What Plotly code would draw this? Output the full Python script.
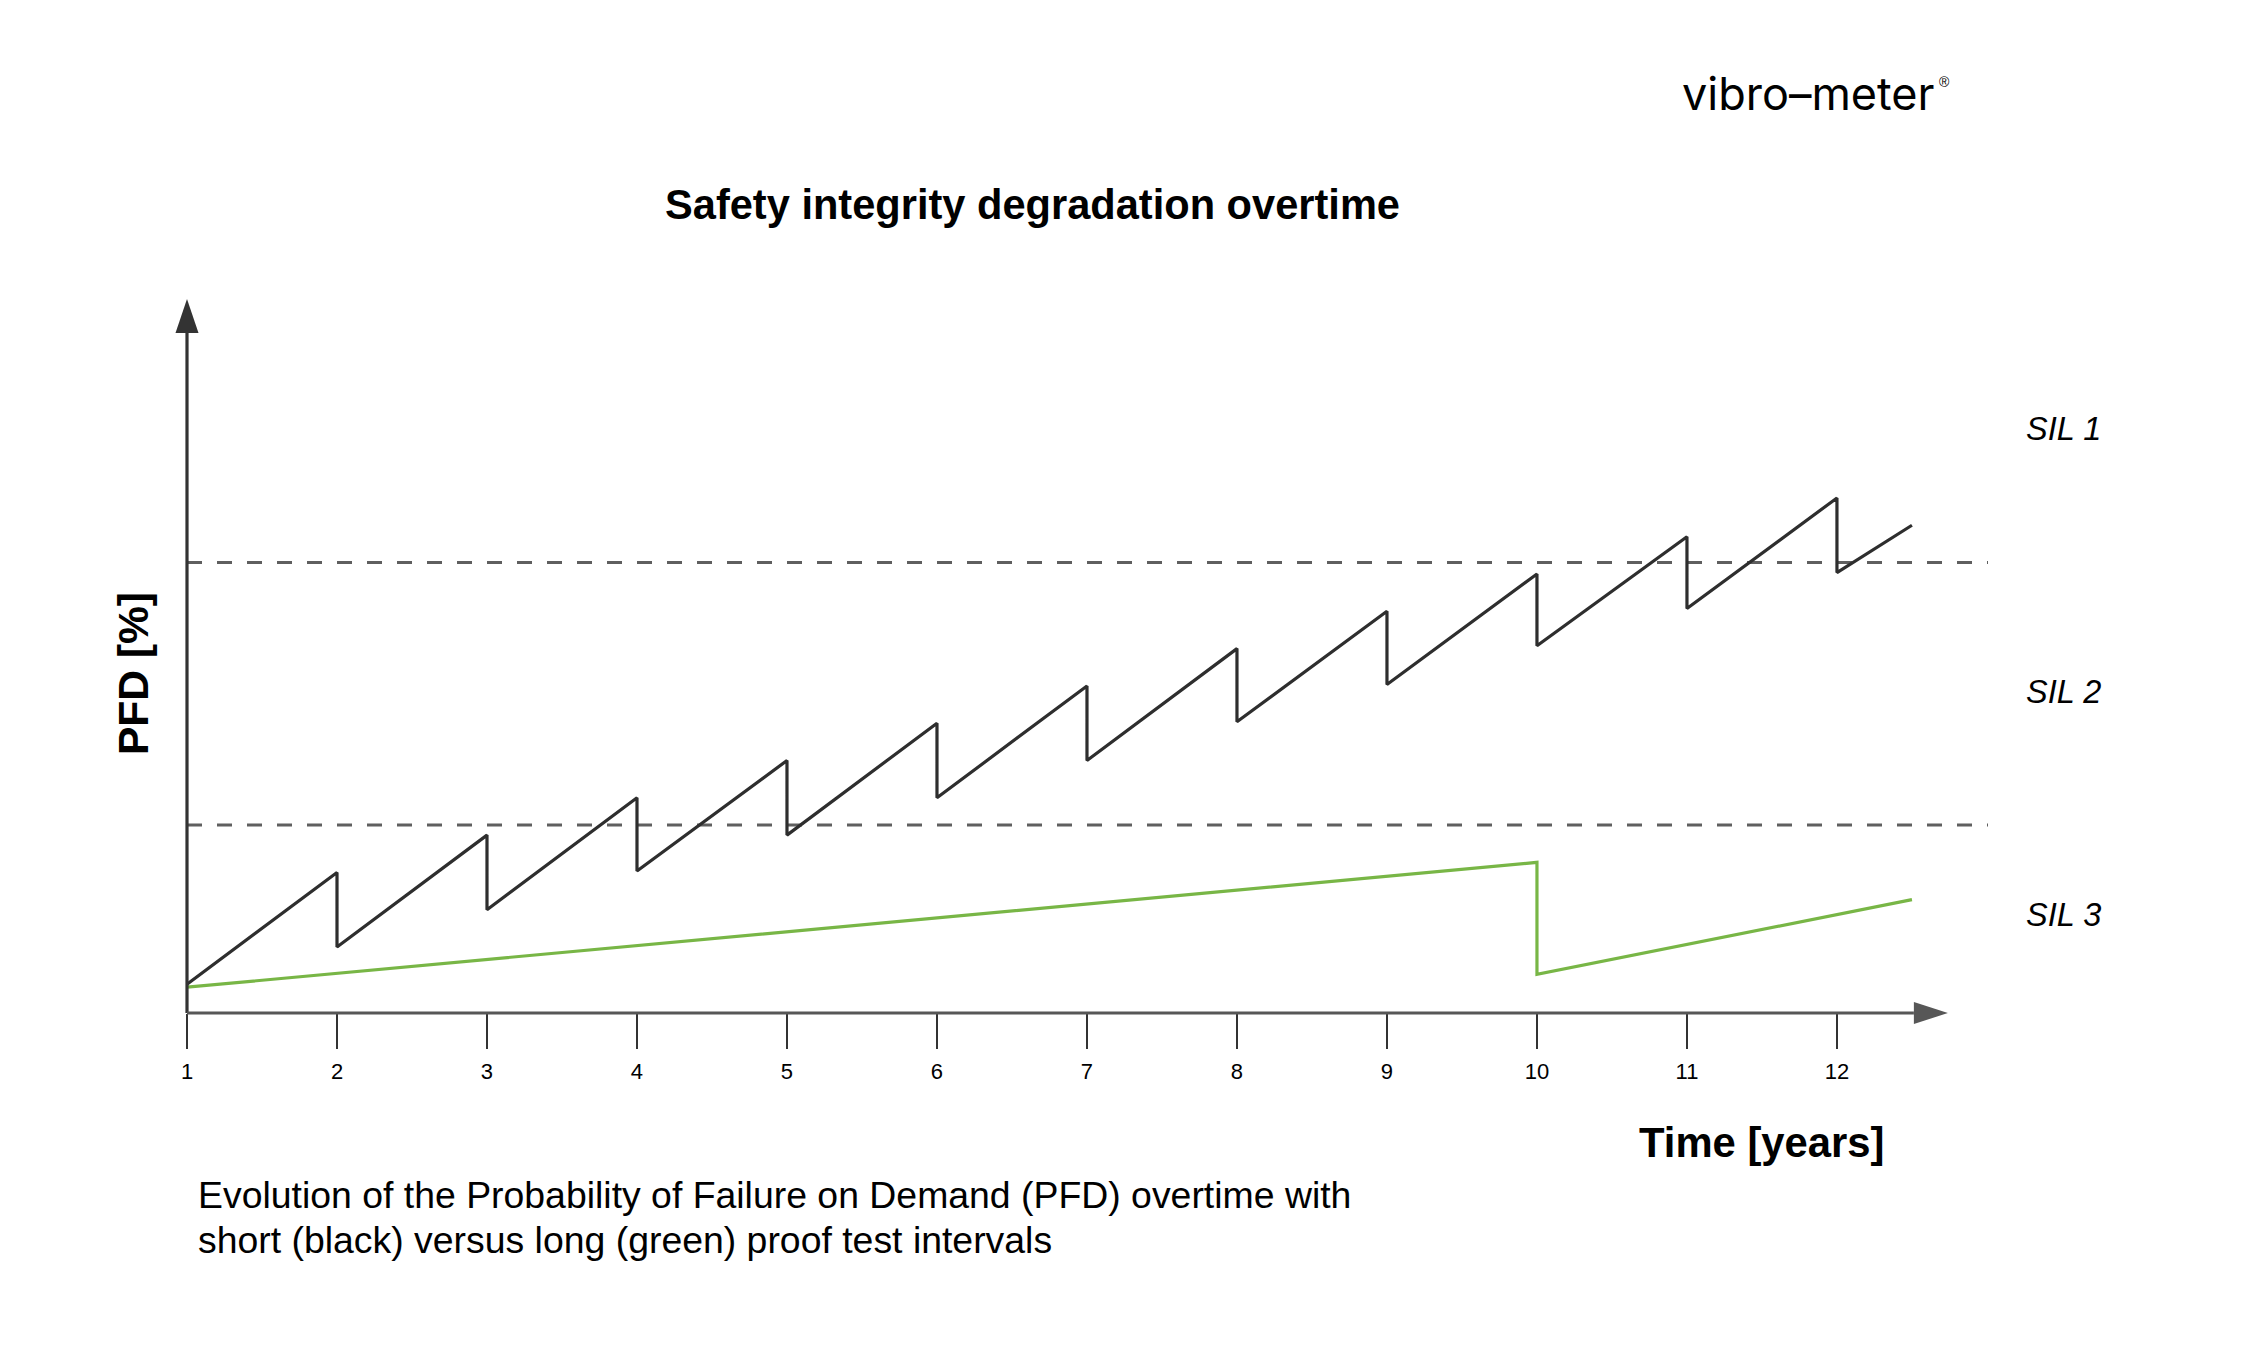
import plotly.graph_objects as go

# ---------------- data (PFD in relative units, time in years) ----------------
YEARS = [1, 2, 3, 4, 5, 6, 7, 8, 9, 10, 11, 12]
YEAR_LABELS = ["1", "2", "3", "4", "5", "6", "7", "8", "9", "10", "11", "12"]

# short proof-test interval (black)
SHORT_START_YEAR = 1
SHORT_START_PFD = 2.0
SHORT_TEST_YEARS = [2, 3, 4, 5, 6, 7, 8, 9, 10, 11, 12]
SHORT_PFD_BEFORE = [9.8, 12.4, 15.0, 17.6, 20.2, 22.8, 25.4, 28.0, 30.6, 33.2, 35.9]
SHORT_PFD_AFTER = [4.6, 7.2, 9.9, 12.4, 15.0, 17.6, 20.3, 22.9, 25.6, 28.2, 30.7]
SHORT_END_YEAR = 12.5
SHORT_END_PFD = 34.0

# long proof-test interval (green)
LONG_START_YEAR = 1
LONG_START_PFD = 1.8
LONG_TEST_YEARS = [10]
LONG_PFD_BEFORE = [10.5]
LONG_PFD_AFTER = [2.7]
LONG_END_YEAR = 12.5
LONG_END_PFD = 7.9

# SIL band boundaries and labels
SIL_BOUNDARIES = [13.1, 31.4]
SIL_LABELS = ["SIL 1", "SIL 2", "SIL 3"]
SIL_LABEL_PFD = [40.7, 22.4, 6.8]

X_RANGE = [1, 13.007]
Y_RANGE = [0, 47.4]
X_AXIS_END = 12.513

CAPTION_LINES = [
    "Evolution of the Probability of Failure on Demand (PFD) overtime with",
    "short (black) versus long (green) proof test intervals",
]


def sawtooth(x0, y0, tests, before, after, x1, y1):
    xs, ys = [x0], [y0]
    for t, b, a in zip(tests, before, after):
        xs += [t, t]
        ys += [b, a]
    xs.append(x1)
    ys.append(y1)
    return xs, ys


# ---------------- layout geometry ----------------
W, H = 2250, 1356
OFF = 8  # page body margin
ML, MR, MT, MB = 187 - OFF, 262 + OFF, 333 - OFF, 343 + OFF
PW = W - ML - MR
PH = H - MT - MB


def px_x(p):
    return (p - OFF - ML) / PW


def px_y(p):
    return (H - MB - (p - OFF)) / PH


FONT = "Liberation Sans, Arial, sans-serif"

fig = go.Figure()

gx, gy = sawtooth(LONG_START_YEAR, LONG_START_PFD, LONG_TEST_YEARS,
                  LONG_PFD_BEFORE, LONG_PFD_AFTER, LONG_END_YEAR, LONG_END_PFD)
fig.add_trace(go.Scatter(x=gx, y=gy, mode="lines",
                         line=dict(color="#78b646", width=3.2),
                         hoverinfo="skip", showlegend=False))

bx, by = sawtooth(SHORT_START_YEAR, SHORT_START_PFD, SHORT_TEST_YEARS,
                  SHORT_PFD_BEFORE, SHORT_PFD_AFTER, SHORT_END_YEAR, SHORT_END_PFD)
fig.add_trace(go.Scatter(x=bx, y=by, mode="lines",
                         line=dict(color="#2e2e2e", width=3.2),
                         hoverinfo="skip", showlegend=False))

shapes = []
# SIL boundaries (dashed)
for b in SIL_BOUNDARIES:
    shapes.append(dict(type="line", xref="paper", x0=0, x1=1, yref="y", y0=b, y1=b,
                       line=dict(color="#5f5f5f", width=3, dash="15px,15px"),
                       layer="below"))
# y axis line + arrow
shapes.append(dict(type="line", xref="paper", x0=0, x1=0, yref="paper", y0=0, y1=1,
                   line=dict(color="#333333", width=3.2)))
shapes.append(dict(type="path", xref="paper", yref="paper",
                   xsizemode="pixel", ysizemode="pixel", xanchor=0, yanchor=1,
                   path="M -11.5,0 L 11.5,0 L 0,34 Z",
                   fillcolor="#333333", line=dict(width=0)))
# x axis line + arrow
shapes.append(dict(type="line", xref="x", x0=X_RANGE[0], x1=X_AXIS_END, yref="paper", y0=0, y1=0,
                   line=dict(color="#575757", width=3.2)))
shapes.append(dict(type="path", xref="x", yref="paper",
                   xsizemode="pixel", ysizemode="pixel", xanchor=X_AXIS_END, yanchor=0,
                   path="M 0,-11 L 0,11 L 34,0 Z",
                   fillcolor="#575757", line=dict(width=0)))

annotations = []
annotations.append(dict(text="<b>Safety integrity degradation overtime</b>",
                        xref="paper", yref="paper", x=px_x(1032), y=px_y(204),
                        xanchor="center", yanchor="middle", showarrow=False,
                        font=dict(family=FONT, size=41.6, color="#000000")))
annotations.append(dict(text="<b>PFD [%]</b>", textangle=-90,
                        xref="paper", yref="paper", x=px_x(133), y=px_y(674),
                        xanchor="center", yanchor="middle", showarrow=False,
                        font=dict(family=FONT, size=42.5, color="#000000")))
annotations.append(dict(text="<b>Time [years]</b>",
                        xref="paper", yref="paper", x=px_x(1762), y=px_y(1142),
                        xanchor="center", yanchor="middle", showarrow=False,
                        font=dict(family=FONT, size=41.8, color="#000000")))
for line, yc in zip(CAPTION_LINES, [1195, 1240]):
    annotations.append(dict(text=line,
                            xref="paper", yref="paper", x=px_x(196), y=px_y(yc),
                            xanchor="left", yanchor="middle", align="left", showarrow=False,
                            font=dict(family=FONT, size=37.4, color="#000000")))
for lab, v in zip(SIL_LABELS, SIL_LABEL_PFD):
    annotations.append(dict(text="<i>" + lab + "</i>",
                            xref="paper", yref="paper", x=px_x(2024),
                            y=px_y(1013) + v / (Y_RANGE[1] - Y_RANGE[0]),
                            xanchor="left", yanchor="middle", showarrow=False,
                            font=dict(family=FONT, size=32.5, color="#000000")))
# logo
annotations.append(dict(text="vibro\u2013meter",
                        xref="paper", yref="paper", x=px_x(1808), y=px_y(94),
                        xanchor="center", yanchor="middle", showarrow=False,
                        font=dict(family="Inter, Lato, sans-serif", size=45, color="#000000", weight=400)))
annotations.append(dict(text="\u00ae",
                        xref="paper", yref="paper", x=px_x(1944), y=px_y(82),
                        xanchor="center", yanchor="middle", showarrow=False,
                        font=dict(family=FONT, size=14, color="#000000")))

fig.update_layout(
    width=W, height=H,
    margin=dict(l=ML, r=MR, t=MT, b=MB, pad=0),
    paper_bgcolor="white", plot_bgcolor="white",
    shapes=shapes, annotations=annotations,
    xaxis=dict(range=X_RANGE, tickmode="array", tickvals=YEARS, ticktext=YEAR_LABELS,
               ticks="outside", ticklen=35, tickwidth=1.5, tickcolor="#333333",
               showline=False, showgrid=False, zeroline=False,
               tickfont=dict(family=FONT, size=22, color="#000000"),
               ticklabelstandoff=4, fixedrange=True),
    yaxis=dict(range=Y_RANGE, showticklabels=False, ticks="", showline=False,
               showgrid=False, zeroline=False, fixedrange=True),
)

fig.write_html("out.html")
